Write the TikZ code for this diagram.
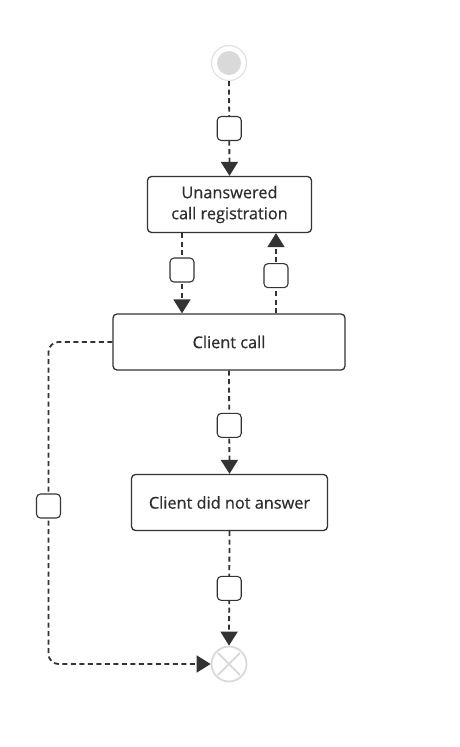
\documentclass[tikz,border=0pt]{standalone}
\usepackage{fontspec}
\setmainfont{Open Sans}
\newfontfamily\tfont[RawFeature={embolden=0.6}]{Open Sans}
\usetikzlibrary{arrows.meta,calc}
\definecolor{ink}{HTML}{333333}
\definecolor{pale}{HTML}{D9D9D9}
\tikzset{
  task/.style={draw=ink, line width=1.3pt, rounded corners=4pt, fill=white, minimum height=56pt, align=center, font=\tfont\fontsize{16.3}{21}\selectfont, text=ink!90!black, inner sep=0pt},
  flow/.style={draw=ink, line width=1.8pt, dash pattern=on 5pt off 3.5pt, -{Triangle[length=14pt,width=17pt]}},
  lbl/.style={draw=ink, line width=1.1pt, rounded corners=4pt, fill=white, minimum width=24pt, minimum height=24pt, inner sep=0pt, solid},
}
\begin{document}
\begin{tikzpicture}[x=1pt,y=-1pt]
\useasboundingbox (0,0) rectangle (459,747);
% start event
\node[circle, draw=pale!80!white, line width=1.2pt, minimum size=35pt, inner sep=0pt] (start) at (229,63) {};
\fill[pale] (start.center) circle (12pt);
% tasks
\node[task, minimum width=164pt] (b1) at (229.5,204.5) {Unanswered\\call registration};
\node[task, minimum width=232pt] (b2) at (229,342) {Client call};
\node[task, minimum width=196pt] (b3) at (229.5,502.5) {Client did not answer};
% end event
\node[circle, draw=pale, line width=1.8pt, minimum size=35pt, inner sep=0pt] (end) at (229,664) {};
\draw[pale, line width=1.8pt] ($(end.center)+(-11,-11)$) -- ($(end.center)+(11,11)$);
\draw[pale, line width=1.8pt] ($(end.center)+(11,-11)$) -- ($(end.center)+(-11,11)$);
% connectors
\draw[flow] (start.south) -- (b1.north) node[lbl, pos=0.5] {};
\draw[flow] (b1.south -| 182,0) -- (b2.north -| 182,0) node[lbl, pos=0.46] {};
\draw[flow] (b2.north -| 276,0) -- (b1.south -| 276,0) node[lbl, pos=0.47] {};
\draw[flow] (b2.south) -- (b3.north) node[lbl, pos=0.53] {};
\draw[flow] (b3.south) -- (end.north) node[lbl, pos=0.5] {};
\coordinate (lc) at (48.5,664);
\draw[flow, rounded corners=10pt] (b2.west) -| (lc) -- (end.west);
\node[lbl] (l6) at (48.5,506) {};
\end{tikzpicture}
\end{document}
